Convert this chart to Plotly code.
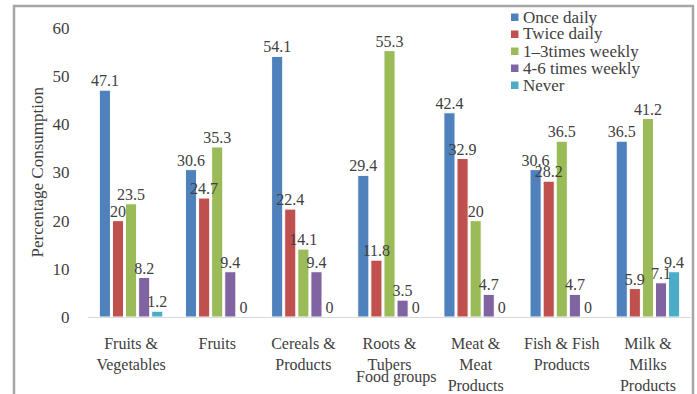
import plotly.graph_objects as go

categories = ["Fruits &<br>Vegetables", "Fruits", "Cereals &<br>Products", "Roots &<br>Tubers",
              "Meat &<br>Meat<br>Products", "Fish & Fish<br>Products", "Milk &<br>Milks<br>Products"]
series_names = ["Once daily", "Twice daily", "1\u20133times weekly", "4-6 times weekly", "Never"]
once_daily = [47.1, 30.6, 54.1, 29.4, 42.4, 30.6, 36.5]
twice_daily = [20, 24.7, 22.4, 11.8, 32.9, 28.2, 5.9]
times_1_3_weekly = [23.5, 35.3, 14.1, 55.3, 20, 36.5, 41.2]
times_4_6_weekly = [8.2, 9.4, 9.4, 3.5, 4.7, 4.7, 7.1]
never = [1.2, 0, 0, 0, 0, 0, 9.4]
colors = ["#4F81BD", "#C0504D", "#9BBB59", "#8064A2", "#4BACC6"]
y_ticks = [0, 10, 20, 30, 40, 50, 60]

FONT = "Liberation Serif"
TXT = "#404040"
GAP = 0.24

all_series = [once_daily, twice_daily, times_1_3_weekly, times_4_6_weekly, never]

fig = go.Figure()
for i, (name, vals, col) in enumerate(zip(series_names, all_series, colors)):
    fig.add_trace(go.Bar(
        x=categories, y=vals, name=name, offsetgroup=str(i),
        marker=dict(color=col, line=dict(color="white", width=1)),
        showlegend=False,
    ))
# value labels drawn after all bars so they sit on top
for i, (name, vals) in enumerate(zip(series_names, all_series)):
    fig.add_trace(go.Scatter(
        x=categories, y=vals, mode="text", offsetgroup=str(i),
        text=[f"{v:g}" for v in vals], textposition="top center",
        textfont=dict(family=FONT, size=16, color=TXT),
        showlegend=False, cliponaxis=False, hoverinfo="skip",
    ))

W, H = 697, 394
L, R, T, B = 88, 6, 28, 77
pw, ph = W - L - R, H - T - B

def px_x(x):
    return (x - L) / pw

def px_y(y):
    return (H - B - y) / ph

annotations = [
    dict(text="Percentage Consumption", textangle=-90, xref="paper", yref="paper",
         x=px_x(37), y=0.5, xanchor="center", yanchor="middle", showarrow=False,
         font=dict(family=FONT, size=17, color=TXT)),
    dict(text="Food groups", xref="paper", yref="paper",
         x=px_x(396), y=px_y(377), xanchor="center", yanchor="middle", showarrow=False,
         font=dict(family=FONT, size=16, color=TXT)),
]
shapes = [
    dict(type="rect", xref="paper", yref="paper",
         x0=px_x(14), x1=px_x(693), y0=px_y(410), y1=px_y(6),
         line=dict(color="#A6A6A6", width=2.5), fillcolor="rgba(0,0,0,0)", layer="below"),
]
# legend (drawn manually for compact row spacing)
for i, (name, col) in enumerate(zip(series_names, colors)):
    yc = 17 + 17 * i
    shapes.append(dict(type="rect", xref="paper", yref="paper",
                       x0=px_x(511), x1=px_x(518.5), y0=px_y(yc + 4), y1=px_y(yc - 3.5),
                       line=dict(width=0), fillcolor=col))
    annotations.append(dict(text=name, xref="paper", yref="paper", x=px_x(521), y=px_y(yc),
                            xanchor="left", yanchor="middle", showarrow=False,
                            font=dict(family=FONT, size=17, color=TXT)))

fig.update_layout(
    width=W, height=H,
    margin=dict(l=L, r=R, t=T, b=B, autoexpand=False),
    paper_bgcolor="white", plot_bgcolor="white",
    barmode="group", bargap=GAP, bargroupgap=0.15,
    scattermode="group", scattergap=GAP,
    font=dict(family=FONT, size=16, color=TXT),
    showlegend=False,
    xaxis=dict(showline=True, linecolor="#D9D9D9", linewidth=1, showgrid=False,
               ticks="", ticklabelstandoff=12, automargin=False,
               tickfont=dict(family=FONT, size=16, color=TXT), fixedrange=True),
    yaxis=dict(range=[0, 60], tickvals=y_ticks, showgrid=False, zeroline=False,
               showline=False, ticks="outside", ticklen=14, tickcolor="rgba(0,0,0,0)",
               automargin=False,
               tickfont=dict(family=FONT, size=17, color=TXT)),
    annotations=annotations,
    shapes=shapes,
)

fig.write_html("out.html")
